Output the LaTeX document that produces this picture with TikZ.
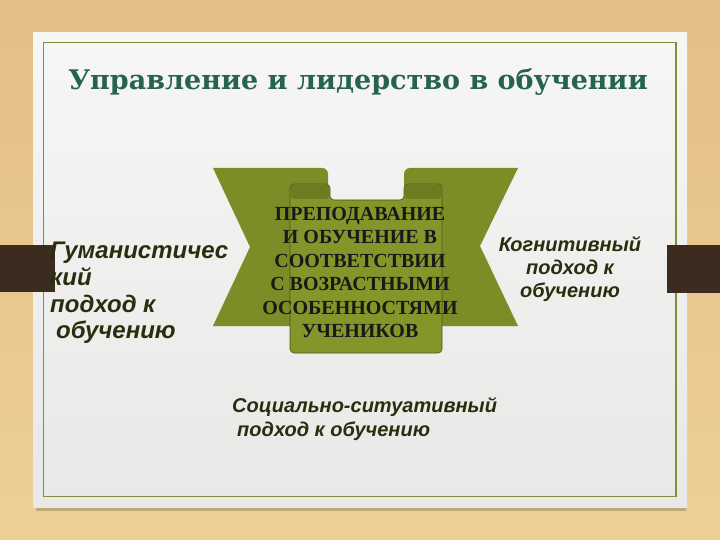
\documentclass[tikz,border=0pt]{standalone}
\usepackage{fontspec}
\setmainfont{Liberation Serif}
\newfontfamily\titlefont{DejaVu Serif}
\newfontfamily\sidefont{Liberation Sans}
\definecolor{woodtop}{RGB}{228,190,134}
\definecolor{woodlow}{RGB}{237,207,152}
\definecolor{cardtop}{RGB}{246,246,245}
\definecolor{cardlow}{RGB}{232,232,231}
\definecolor{frameline}{RGB}{126,145,58}
\definecolor{titlegreen}{RGB}{38,98,78}
\definecolor{ribbon}{RGB}{123,141,38}
\definecolor{panel}{RGB}{131,150,42}
\definecolor{curl}{RGB}{108,124,32}
\definecolor{tab}{RGB}{60,44,32}
\definecolor{ink}{RGB}{40,46,14}
\tikzset{
  heading/.style={font=\titlefont\bfseries\fontsize{27}{32}\selectfont, text=titlegreen, inner sep=0pt},
  core/.style={font=\bfseries\fontsize{20}{23.4}\selectfont, text=black!90, align=center, inner sep=0pt},
  approach/.style={font=\sidefont\bfseries\itshape, text=ink, inner sep=0pt},
}
\begin{document}
\begin{tikzpicture}[x=1pt,y=-1pt]
    \def\ct{184} % top of the curls
    \def\pt{200} % top of the panel between the curls
    \def\pb{353} % bottom of the panel
    \useasboundingbox (0,0) rectangle (720,540);

    % wooden desk and the card on it
    \shade[top color=woodtop,bottom color=woodlow] (0,0) rectangle (720,540);
    \fill[black,opacity=.18] (36,500) rectangle (686,511);
    \shade[top color=cardtop,bottom color=cardlow] (33,33) rectangle (687,507);
    \draw[frameline,line width=1.6pt] (43.5,42.5) rectangle (676,496.5);

    % the two dark tabs at the sides
    \fill[tab] (0,245) rectangle (55,292);
    \fill[tab] (667,245) rectangle (720,293);

    % ribbon ends
    \fill[ribbon] (213,168) -- (322,168) to[out=0,in=90] (328,174) -- (328,326) -- (213,326) -- (250,247) -- cycle;
    \fill[ribbon] (518,168) -- (410,168) to[out=180,in=90] (404,174) -- (404,326) -- (518,326) -- (480,246) -- cycle;

    % scroll in the middle
    \filldraw[fill=panel,draw=curl!70!black,line width=.6pt,rounded corners=4pt]
      (290,\pb) -- (290,\ct) -- (330,\ct) -- (330,\pt) -- (404,\pt) -- (404,\ct) -- (442,\ct) -- (442,\pb) -- cycle;
    \fill[curl,rounded corners=4pt] (290.5,\ct+.5) rectangle (329.5,\pt-1);
    \fill[curl,rounded corners=4pt] (404.5,\ct+.5) rectangle (441.5,\pt-1);

    \node[heading,anchor=base] (title) at (358,90) {Управление и лидерство в обучении};
    \node[core,anchor=north] (teach) at (360,207)
      {ПРЕПОДАВАНИЕ\\И ОБУЧЕНИЕ В\\СООТВЕТСТВИИ\\С ВОЗРАСТНЫМИ\\ОСОБЕННОСТЯМИ\\УЧЕНИКОВ};

    \node[approach,anchor=north west,align=left,font=\sidefont\bfseries\itshape\fontsize{24}{26.7}\selectfont]
      (human) at (50,242) {Гуманистичес\\кий\\подход к\\\hspace*{6pt}обучению};
    \node[approach,anchor=north,align=center,font=\sidefont\bfseries\itshape\fontsize{20}{23}\selectfont]
      (cogn) at (570,236) {Когнитивный\\подход к\\обучению};
    \node[approach,anchor=north west,align=left,font=\sidefont\bfseries\itshape\fontsize{20}{24.5}\selectfont]
      (social) at (232,397) {Социально-ситуативный\\\hspace*{5pt}подход к обучению};
\end{tikzpicture}
\end{document}
